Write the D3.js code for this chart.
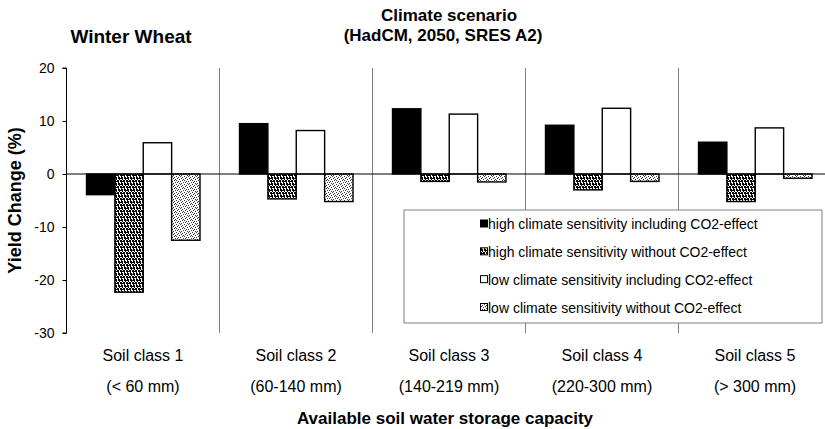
<!DOCTYPE html>
<html>
<head>
<meta charset="utf-8">
<script src="https://cdn.jsdelivr.net/npm/d3@7/dist/d3.min.js"></script>
<style>
  html, body { margin: 0; padding: 0; background: #fff; }
  svg { display: block; font-family: "Liberation Sans", Arial, sans-serif; }
</style>
</head>
<body>
<svg id="chart" width="825" height="429"></svg>
<script>
// ---- data ----
const categories = ["Soil class 1", "Soil class 2", "Soil class 3", "Soil class 4", "Soil class 5"];
const capacityLabels = ["(< 60 mm)", "(60-140 mm)", "(140-219 mm)", "(220-300 mm)", "(> 300 mm)"];
const seriesNames = [
  "high climate sensitivity including CO2-effect",
  "high climate sensitivity without CO2-effect",
  "low climate sensitivity including CO2-effect",
  "low climate sensitivity without CO2-effect"
];
const highWithCO2    = [-3.9, 9.5, 12.3, 9.2, 6.0];
const highWithoutCO2 = [-22.3, -4.7, -1.4, -3.0, -5.2];
const lowWithCO2     = [5.9, 8.2, 11.3, 12.4, 8.7];
const lowWithoutCO2  = [-12.5, -5.2, -1.5, -1.4, -0.8];
const yTicks = [20, 10, 0, -10, -20, -30];

const seriesValues = [highWithCO2, highWithoutCO2, lowWithCO2, lowWithoutCO2];

// ---- layout ----
const svg = d3.select("#chart");
const pLeft = 66.5, pTop = 68, pBottom = 333, step = 153;
const x = d3.scaleBand().domain(categories).range([pLeft, pLeft + step * categories.length]).padding(0);
const xs = d3.scaleBand().domain(seriesNames).range([20, 133.5]).padding(0);
const y = d3.scaleLinear().domain([-30, 20]).range([pBottom, pTop]);

// patterns (fixed dot tiles)
const defs = svg.append("defs");
function dotPattern(id, rows, color) {
  const n = rows.length;
  const p = defs.append("pattern").attr("id", id).attr("patternUnits", "userSpaceOnUse")
    .attr("width", rows[0].length).attr("height", n);
  p.append("rect").attr("width", rows[0].length).attr("height", n).attr("fill", "#fff");
  rows.forEach((r, ry) => r.split("").forEach((c, rx) => {
    if (c === "1") p.append("rect").attr("x", rx).attr("y", ry).attr("width", 1).attr("height", 1)
      .attr("fill", color).attr("shape-rendering", "crispEdges");
  }));
}
dotPattern("dark", [
  "110110",
  "111110",
  "010010",
  "011011",
  "111011",
  "001001"
], "#000");
dotPattern("light", [
  "10001000",
  "00100010",
  "01000100",
  "00010001",
  "10000010",
  "00101000",
  "01000001",
  "00010100"
], "#333");
const fills = ["#000", "url(#dark)", "#fff", "url(#light)"];

// separators
svg.append("g").selectAll("line").data(categories)
  .join("line")
  .attr("x1", d => x(d) + x.bandwidth()).attr("x2", d => x(d) + x.bandwidth())
  .attr("y1", pTop).attr("y2", pBottom)
  .attr("stroke", "#7f7f7f").attr("stroke-width", 1).attr("shape-rendering", "crispEdges");

// bars
const gBars = svg.append("g");
seriesNames.forEach((s, si) => {
  gBars.append("g").selectAll("rect").data(seriesValues[si]).join("rect")
    .attr("x", (d, i) => x(categories[i]) + xs(s))
    .attr("y", d => y(Math.max(0, d)))
    .attr("width", xs.bandwidth())
    .attr("height", d => Math.abs(y(d) - y(0)))
    .attr("fill", fills[si])
    .attr("stroke", "#000").attr("stroke-width", 1.4);
});

// zero line
svg.append("line").attr("x1", pLeft).attr("x2", 825).attr("y1", y(0)).attr("y2", y(0))
  .attr("stroke", "#000").attr("stroke-width", 1.2);

// y axis
const yAxis = d3.axisLeft(y).tickValues(yTicks).tickSize(4).tickPadding(8).tickFormat(d => String(d));
const ga = svg.append("g").attr("transform", `translate(${pLeft},0)`).call(yAxis);
ga.select(".domain").attr("stroke", "#000").attr("d", `M-4,${pTop}H0V${pBottom}H-4`);
ga.selectAll(".tick line").attr("stroke", "#000");
ga.selectAll("text").attr("font-size", 14).attr("font-family", "Liberation Sans, Arial, sans-serif").attr("fill", "#000");

// y label
svg.append("text").attr("transform", `translate(21,${(pTop + pBottom) / 2}) rotate(-90)`)
  .attr("text-anchor", "middle").attr("font-weight", "bold").attr("font-size", 18).text("Yield Change (%)");

// category labels
svg.append("g").selectAll("text").data(categories).join("text")
  .attr("x", d => x(d) + x.bandwidth() / 2).attr("y", 361)
  .attr("text-anchor", "middle").attr("font-size", 16).text(d => d);
svg.append("g").selectAll("text").data(capacityLabels).join("text")
  .attr("x", (d, i) => x(categories[i]) + x.bandwidth() / 2).attr("y", 392)
  .attr("text-anchor", "middle").attr("font-size", 16).text(d => d);

svg.append("text").attr("x", 445).attr("y", 424).attr("text-anchor", "middle")
  .attr("font-weight", "bold").attr("font-size", 17).text("Available soil water storage capacity");

// titles
svg.append("text").attr("x", 131).attr("y", 43).attr("text-anchor", "middle")
  .attr("font-weight", "bold").attr("font-size", 19).text("Winter Wheat");
svg.append("text").attr("x", 449).attr("y", 21).attr("text-anchor", "middle")
  .attr("font-weight", "bold").attr("font-size", 17).text("Climate scenario");
svg.append("text").attr("x", 443).attr("y", 41).attr("text-anchor", "middle")
  .attr("font-weight", "bold").attr("font-size", 17).text("(HadCM, 2050, SRES A2)");

// legend
const lg = svg.append("g");
lg.append("rect").attr("x", 404).attr("y", 210).attr("width", 418).attr("height", 113)
  .attr("fill", "#fff").attr("stroke", "#7f7f7f").attr("stroke-width", 1);
const rowY = d3.scalePoint().domain(seriesNames).range([224, 307.5]);
seriesNames.forEach((s, si) => {
  lg.append("rect").attr("x", 480.5).attr("y", rowY(s) - 4).attr("width", 7).attr("height", 7)
    .attr("fill", fills[si]).attr("stroke", "#000").attr("stroke-width", 1);
  lg.append("text").attr("x", 488).attr("y", rowY(s)).attr("dy", "0.36em")
    .attr("font-size", 14).text(s);
});
</script>
</body>
</html>
